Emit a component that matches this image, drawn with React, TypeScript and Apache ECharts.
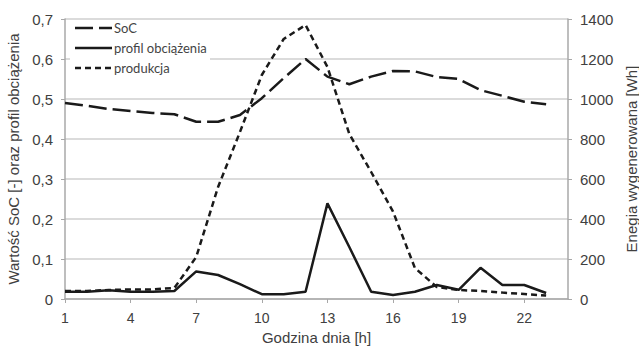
import React, { useEffect, useRef } from "react";
import * as echarts from "echarts";

const hours = Array.from({ length: 24 }, (_, i) => String(i + 1));
const socValues = [0.49, 0.483, 0.475, 0.47, 0.465, 0.462, 0.443, 0.443, 0.46, 0.502, 0.552, 0.6, 0.556, 0.537, 0.556, 0.57, 0.569, 0.555, 0.55, 0.522, 0.508, 0.493, 0.487];
const loadValues = [0.018, 0.018, 0.022, 0.018, 0.018, 0.02, 0.069, 0.06, 0.037, 0.012, 0.012, 0.018, 0.239, 0.13, 0.018, 0.01, 0.018, 0.035, 0.023, 0.078, 0.035, 0.035, 0.015];
const productionValues = [40, 40, 45, 48, 48, 55, 210, 560, 835, 1120, 1300, 1370, 1160, 825, 635, 437, 155, 60, 45, 40, 32, 25, 17];

const seriesNames = ["SoC", "profil obciążenia", "produkcja"];
const dashTypes: any[] = [[18, 6], "solid", [6, 4]];
const axisFont = "'Liberation Sans', Arial, sans-serif";
const lineColor = "#1a1a1a";

export default function App() {
  const ref = useRef<HTMLDivElement>(null);
  useEffect(() => {
    if (!ref.current) return;
    const chart = echarts.init(ref.current, null, { renderer: "svg" });
    const labelStyle = { color: "#404040", fontSize: 15, fontFamily: axisFont };
    const legendItems: any[] = [];
    seriesNames.forEach((name, i) => {
      const y = 28 + i * 20;
      legendItems.push({
        type: "line",
        shape: { x1: 75, y1: y, x2: 112, y2: y },
        style: {
          stroke: lineColor,
          lineWidth: 2.5,
          lineDash: Array.isArray(dashTypes[i]) ? dashTypes[i] : null,
        },
      });
      legendItems.push({
        type: "text",
        x: 114,
        y,
        style: {
          text: name,
          fill: "#444",
          fontSize: 13,
          fontFamily: "Lato, sans-serif",
          verticalAlign: "middle",
          align: "left",
        },
      });
    });
    chart.setOption({
      animation: false,
      backgroundColor: "#ffffff",
      grid: { left: 65, right: 71, top: 19, bottom: 48, outerBoundsMode: "none", containLabel: false },
      graphic: [
        {
          type: "rect",
          shape: { x: 70, y: 20, width: 140, height: 57 },
          style: { fill: "#ffffff" },
          z: 10,
        },
        ...legendItems.map((it) => ({ ...it, z: 11 })),
      ],
      xAxis: {
        type: "category",
        data: hours,
        boundaryGap: false,
        name: "Godzina dnia [h]",
        nameLocation: "middle",
        nameGap: 31,
        nameTextStyle: { ...labelStyle },
        axisLine: { lineStyle: { color: "#a8a8a8", width: 1.5 } },
        axisTick: { interval: 2, length: 4, lineStyle: { color: "#a8a8a8" } },
        axisLabel: { interval: 2, margin: 12, ...labelStyle, fontSize: 14 },
        splitLine: { show: false },
      },
      yAxis: [
        {
          type: "value",
          min: 0,
          max: 0.7,
          interval: 0.1,
          name: "Wartość SoC [-] oraz profil obciążenia",
          nameLocation: "middle",
          nameGap: 43,
          nameTextStyle: { ...labelStyle },
          axisLine: { show: true, lineStyle: { color: "#a8a8a8", width: 1.5 } },
          axisTick: { show: true, length: 4, lineStyle: { color: "#a8a8a8" } },
          axisLabel: {
            margin: 12,
            ...labelStyle,
            formatter: (v: number) => (v === 0 ? "0" : v.toFixed(1).replace(".", ",")),
          },
          splitLine: { lineStyle: { color: "#cfcfcf", width: 1.5 } },
        },
        {
          type: "value",
          min: 0,
          max: 1400,
          interval: 200,
          position: "right",
          name: "Enegia wygenerowana [Wh]",
          nameLocation: "middle",
          nameGap: 56,
          nameRotate: 90,
          nameTextStyle: { ...labelStyle },
          axisLine: { show: true, lineStyle: { color: "#a8a8a8", width: 1.5 } },
          axisTick: { show: true, length: 4, lineStyle: { color: "#a8a8a8" } },
          axisLabel: { margin: 12, ...labelStyle, formatter: (v: number) => String(v) },
          splitLine: { show: false },
        },
      ],
      series: [
        {
          name: seriesNames[0],
          type: "line",
          yAxisIndex: 0,
          data: socValues,
          symbol: "none",
          lineStyle: { color: lineColor, width: 2.5, type: dashTypes[0] },
        },
        {
          name: seriesNames[1],
          type: "line",
          yAxisIndex: 0,
          data: loadValues,
          symbol: "none",
          lineStyle: { color: lineColor, width: 2.5, type: dashTypes[1] },
        },
        {
          name: seriesNames[2],
          type: "line",
          yAxisIndex: 1,
          data: productionValues,
          symbol: "none",
          lineStyle: { color: lineColor, width: 2.5, type: dashTypes[2] },
        },
      ],
    });
    return () => chart.dispose();
  }, []);
  return <div ref={ref} style={{ width: 639, height: 347, position: "absolute", left: 0, top: 0 }} />;
}
